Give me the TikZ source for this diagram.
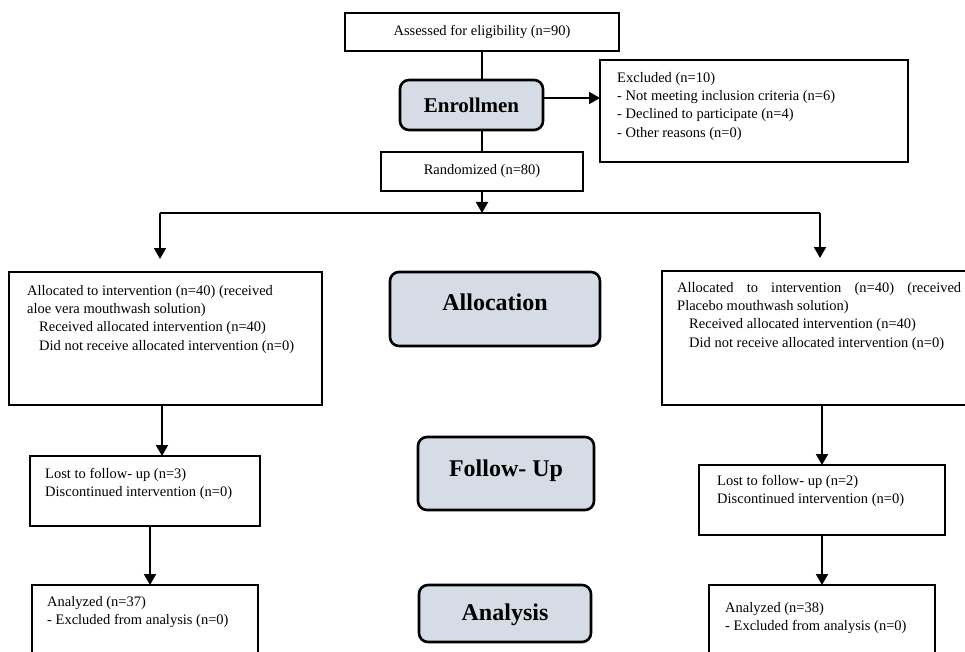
\documentclass[tikz,border=0pt]{standalone}
\usepackage{fontspec}
\setmainfont{Liberation Serif}
\usetikzlibrary{arrows.meta}
\definecolor{lblfill}{RGB}{214,220,229}
\begin{document}
\begin{tikzpicture}[x=1pt,y=-1pt,
  box/.style={draw=black,line width=2.6pt,fill=white,inner sep=0pt,outer sep=0pt},
  lbl/.style={draw=black,line width=2.6pt,fill=lblfill,rounded corners=9pt,inner sep=0pt,outer sep=0pt,
    font=\fontsize{24}{28}\selectfont\bfseries},
  txt/.style={anchor=north west,inner sep=0pt,align=left,font=\fontsize{14.5}{18.3}\selectfont},
  ctxt/.style={font=\fontsize{14.5}{18}\selectfont},
  conn/.style={line width=2pt},
  arr/.style={line width=2pt,-{Triangle[width=12pt,length=11pt]}}]
\clip (0,0) rectangle (965,652);
\fill[white] (0,0) rectangle (965,652);

% boxes
\node[box,ctxt,minimum width=274pt,minimum height=38pt] (assessed) at (482,32) {Assessed for eligibility (n=90)};
\node[lbl,minimum width=143pt,minimum height=50pt,font=\fontsize{21}{24}\selectfont\bfseries] (enroll) at (471.5,105) {Enrollmen};
\node[box,minimum width=308pt,minimum height=102pt] (excl) at (754,111) {};
\node[box,ctxt,minimum width=202pt,minimum height=39pt] (random) at (482,171.5) {Randomized (n=80)};

\node[box,minimum width=313pt,minimum height=133pt] (allocL) at (165.5,338.5) {};
\node[box,minimum width=306pt,minimum height=134pt] (allocR) at (815,338) {};
\node[lbl,minimum width=210pt,minimum height=74pt,text depth=14pt] (allocLbl) at (495,309) {Allocation};

\node[box,minimum width=230pt,minimum height=70pt] (ltfuL) at (145,491) {};
\node[box,minimum width=246pt,minimum height=70pt] (ltfuR) at (822,500) {};
\node[lbl,minimum width=176pt,minimum height=73pt,text depth=11pt] (followLbl) at (506,473.5) {Follow- Up};

\node[box,minimum width=226pt,minimum height=75pt] (anL) at (145,622.5) {};
\node[box,minimum width=226pt,minimum height=75pt] (anR) at (822,622.5) {};
\node[lbl,minimum width=172pt,minimum height=57pt,text depth=3pt] (analysisLbl) at (505,613.5) {Analysis};

% texts
\node[txt] (exclT) at (617,72) {Excluded (n=10)\\- Not meeting inclusion criteria (n=6)\\- Declined to participate (n=4)\\- Other reasons (n=0)};
\node[txt] (allocLT) at (27,285) {Allocated to intervention (n=40) (received\\aloe vera mouthwash solution)\\\hspace*{12pt}Received allocated intervention (n=40)\\\hspace*{12pt}Did not receive allocated intervention (n=0)};
\node[txt] (allocRT) at (677,282) {\makebox[284pt][s]{Allocated to intervention (n=40) (received}\\Placebo mouthwash solution)\\\hspace*{12pt}Received allocated intervention (n=40)\\\hspace*{12pt}Did not receive allocated intervention (n=0)};
\node[txt] (ltfuLT) at (45,468) {Lost to follow- up (n=3)\\Discontinued intervention (n=0)};
\node[txt] (ltfuRT) at (717,475) {Lost to follow- up (n=2)\\Discontinued intervention (n=0)};
\node[txt] (anLT) at (47,596) {Analyzed (n=37)\\- Excluded from analysis (n=0)};
\node[txt] (anRT) at (725,602) {Analyzed (n=38)\\- Excluded from analysis (n=0)};

% connectors
\coordinate (split) at (482,213);
\coordinate (splitL) at (160,213);
\coordinate (splitR) at (820,213);
\draw[conn] (assessed.south) -- (assessed.south |- enroll.north);
\draw[conn] (random.north |- enroll.south) -- (random.north);
\draw[arr] ([yshift=7pt]enroll.east) -- ([yshift=7pt]enroll.east -| excl.west);
\draw[arr] (random.south) -- (split);
\draw[conn,line width=1.6pt] (splitL) -- (splitR);
\draw[arr,shorten >=13pt] (splitL) -- (splitL |- allocL.north);
\draw[arr,shorten >=13pt] (splitR) -- (splitR |- allocR.north);
\draw[arr] ([xshift=-3.5pt]allocL.south) -- ([xshift=-3.5pt]allocL.south |- ltfuL.north);
\draw[arr] ([xshift=5pt]ltfuL.south) -- ([xshift=5pt]anL.north);
\draw[arr] (ltfuR.north |- allocR.south) -- (ltfuR.north);
\draw[arr] (ltfuR.south) -- (anR.north);
\end{tikzpicture}
\end{document}
